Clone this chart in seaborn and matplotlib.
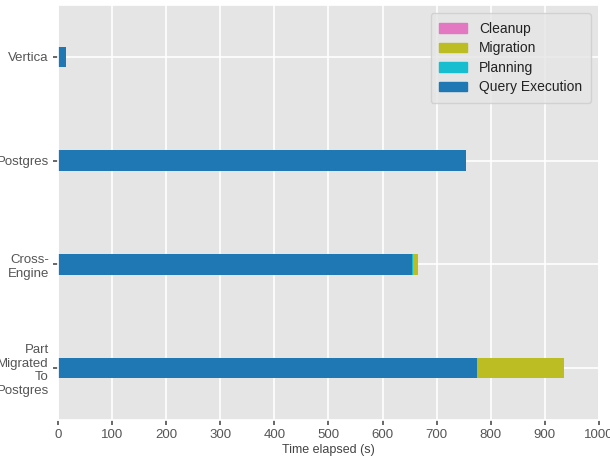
import pandas as pd
import matplotlib
matplotlib.use("Agg")
import matplotlib.pyplot as plt
import matplotlib.patches as mpatches
import seaborn as sns

# === Data (seconds) ===
systems = ["Vertica", "Postgres", "Cross-\nEngine", "Part\nMigrated\nTo\nPostgres"]
query_execution = [15, 755, 655, 775]
planning = [0, 0, 1, 0]
migration = [0, 0, 9, 160]
cleanup = [0, 0, 0, 0]

phases = ["Query Execution", "Planning", "Migration", "Cleanup"]
colors = {"Query Execution": "#1f77b4", "Planning": "#17becf",
          "Migration": "#bcbd22", "Cleanup": "#e377c2"}

df = pd.DataFrame({"system": systems, "Query Execution": query_execution,
                   "Planning": planning, "Migration": migration, "Cleanup": cleanup})
# cumulative sums so that stacked bars can be overdrawn
cum = df[phases].cumsum(axis=1)
cum["system"] = df["system"]

# === Style ===
sns.set_theme(style="darkgrid", rc={
    "axes.facecolor": "#E5E5E5",
    "grid.color": "white",
    "grid.linewidth": 1.2,
    "xtick.bottom": True,
    "ytick.left": True,
    "xtick.major.size": 3.5,
    "ytick.major.size": 3.5,
    "xtick.major.pad": 3,
    "ytick.major.pad": 3,
})
plt.rcParams["font.family"] = ["Liberation Sans", "DejaVu Sans"]

fig = plt.figure(figsize=(6.1, 4.58), dpi=100)
ax = fig.add_axes([0.095, 0.083, 0.887, 0.906])

for phase in reversed(phases):
    sns.barplot(data=cum, x=phase, y="system", order=systems, color=colors[phase],
                width=0.2, orient="h", saturation=1, linewidth=0, ax=ax)

ax.set_xlim(0, 1000)
ax.set_ylim(3.5, -0.5)
ax.set_xticks(range(0, 1001, 100))
ax.grid(True, axis="both", color="white", linewidth=1.2)
ax.set_axisbelow(True)
ax.set_xlabel("Time elapsed (s)", fontsize=9, labelpad=2, color="#444444")
ax.set_ylabel("")
ax.tick_params(axis="both", labelsize=9.5, colors="#555555", labelcolor="#555555")
for lbl in ax.get_yticklabels():
    lbl.set_horizontalalignment("right")
    lbl.set_multialignment("right")

handles = [mpatches.Patch(color=colors[p], label=p) for p in reversed(phases)]
leg = ax.legend(handles=handles, loc="upper right", fontsize=10, frameon=True,
                facecolor="#E5E5E5", edgecolor="#CCCCCC", handlelength=2.0,
                handletextpad=0.9, borderpad=0.6, labelspacing=0.4,
                borderaxespad=0.6)
for t in leg.get_texts():
    t.set_color("#222222")

fig.savefig("out.png", dpi=100)
